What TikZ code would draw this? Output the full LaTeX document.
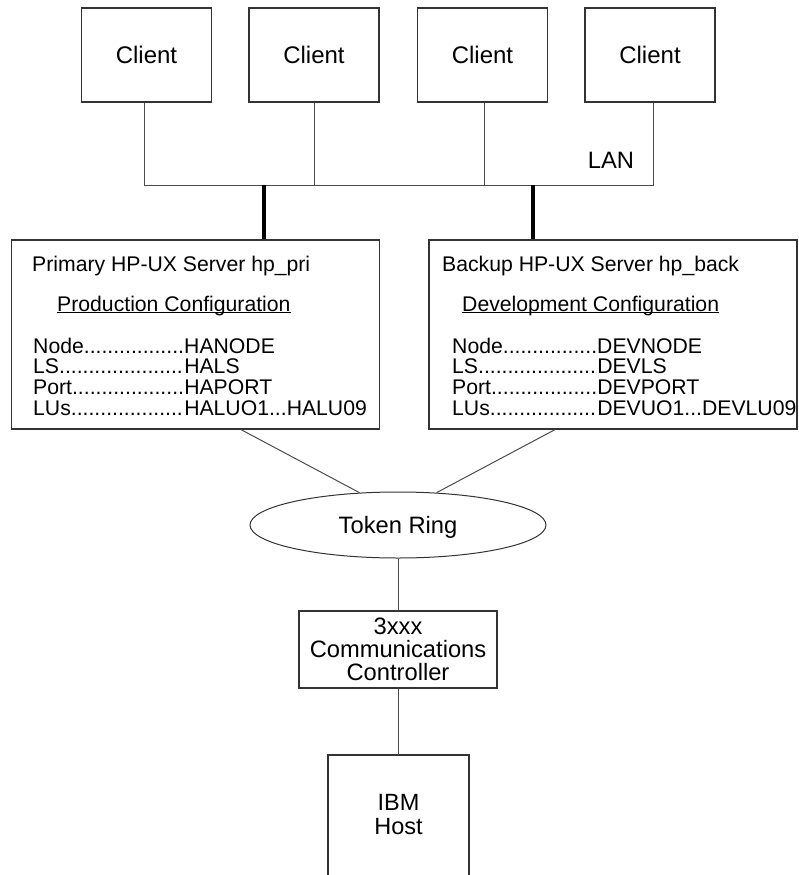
\documentclass[tikz,border=0pt]{standalone}
\usepackage{fontspec}
\setmainfont{Liberation Sans}
\usetikzlibrary{shapes.geometric}
\begin{document}
\begin{tikzpicture}[x=1pt,y=-1pt,
  box/.style={draw=black!80, line width=1.2pt, rectangle, inner sep=0pt},
  client/.style={box, minimum width=130pt, minimum height=94pt, font=\fontsize{24}{24}\selectfont},
  srv/.style={box, minimum width=368pt, minimum height=189pt},
  link/.style={draw=black!70, line width=1pt},
  trunk/.style={draw=black, line width=3.2pt},
  txt/.style={inner sep=0pt, anchor=base west, font=\fontsize{21.2}{21}\selectfont},
  big/.style={font=\fontsize{23.7}{23}\selectfont, align=center, inner sep=0pt}
]
\useasboundingbox (0,0) rectangle (799,875);
\clip (0,0) rectangle (799,875);

% clients on the LAN
\node[client] (c1) at (146.5,55) {Client};
\node[client] (c2) at (314,55) {Client};
\node[client] (c3) at (482.5,55) {Client};
\node[client] (c4) at (650,55) {Client};

\coordinate (b1) at (144,185);
\coordinate (b2) at (314,185);
\coordinate (b3) at (484,185);
\coordinate (b4) at (653,185);
\coordinate (t1) at (264,185);
\coordinate (t2) at (533,185);

\draw[link] (c1.south -| b1) -- (b1) -- (b4) -- (c4.south -| b4);
\draw[link] (c2.south -| b2) -- (b2);
\draw[link] (c3.south -| b3) -- (b3);
\node[big] (lan) at (611,160) {LAN};

% servers
\node[srv] (s1) at (195.5,334.5) {};
\node[srv] (s2) at (613,334.5) {};
\draw[trunk] (t1) -- (t1 |- s1.north);
\draw[trunk] (t2) -- (t2 |- s2.north);

% primary server text
\node[txt] (s1t) at (32,271) {Primary HP-UX Server hp\_pri};
\node[txt] (s1c) at (57,311) {Production Configuration};
\draw[line width=1.2pt] ([yshift=-1.6pt]s1c.base west) -- ([yshift=-1.6pt]s1c.base east);
\node[txt] (s1r1) at (33,353.0) {\makebox[151pt][l]{Node.................}HANODE};
\node[txt] (s1r2) at (33,373.7) {\makebox[151pt][l]{LS.....................}HALS};
\node[txt] (s1r3) at (33,394.4) {\makebox[151pt][l]{Port...................}HAPORT};
\node[txt] (s1r4) at (33,415.0) {\makebox[151pt][l]{LUs...................}HALUO1...HALU09};

% backup server text
\node[txt] (s2t) at (442,271) {Backup HP-UX Server hp\_back};
\node[txt] (s2c) at (462,311) {Development Configuration};
\draw[line width=1.2pt] ([yshift=-1.6pt]s2c.base west) -- ([yshift=-1.6pt]s2c.base east);
\node[txt] (s2r1) at (452,353.0) {\makebox[145pt][l]{Node................}DEVNODE};
\node[txt] (s2r2) at (452,373.7) {\makebox[145pt][l]{LS....................}DEVLS};
\node[txt] (s2r3) at (452,394.4) {\makebox[145pt][l]{Port..................}DEVPORT};
\node[txt] (s2r4) at (452,415.0) {\makebox[145pt][l]{LUs..................}DEVUO1...DEVLU09};

% token ring
\node[ellipse, draw=black!80, line width=1pt, minimum width=296pt, minimum height=66pt,
      inner sep=0pt, text depth=0pt, font=\fontsize{23.7}{23}\selectfont] (tr) at (398,525) {Token Ring};
\draw[link] ([xshift=45.5pt]s1.south) -- (tr.140);
\draw[link] ([xshift=-58pt]s2.south) -- (tr.40);

% communications controller
\node[box, big, minimum width=198pt, minimum height=77pt] (cc) at (398,649.5) {3xxx\\Communications\\Controller};
\draw[link] (tr.south) -- (cc.north);

% IBM host, open at the bottom edge
\coordinate (ibmtop) at (398,755);
\draw[draw=black!80, line width=1.2pt] (328,890) -- (328,755) -- (469,755) -- (469,890);
\node[font=\fontsize{23.5}{24}\selectfont, align=center, inner sep=0pt] (ibm) at (398.5,815) {IBM\\Host};
\draw[link] (cc.south) -- (ibmtop);
\end{tikzpicture}
\end{document}
